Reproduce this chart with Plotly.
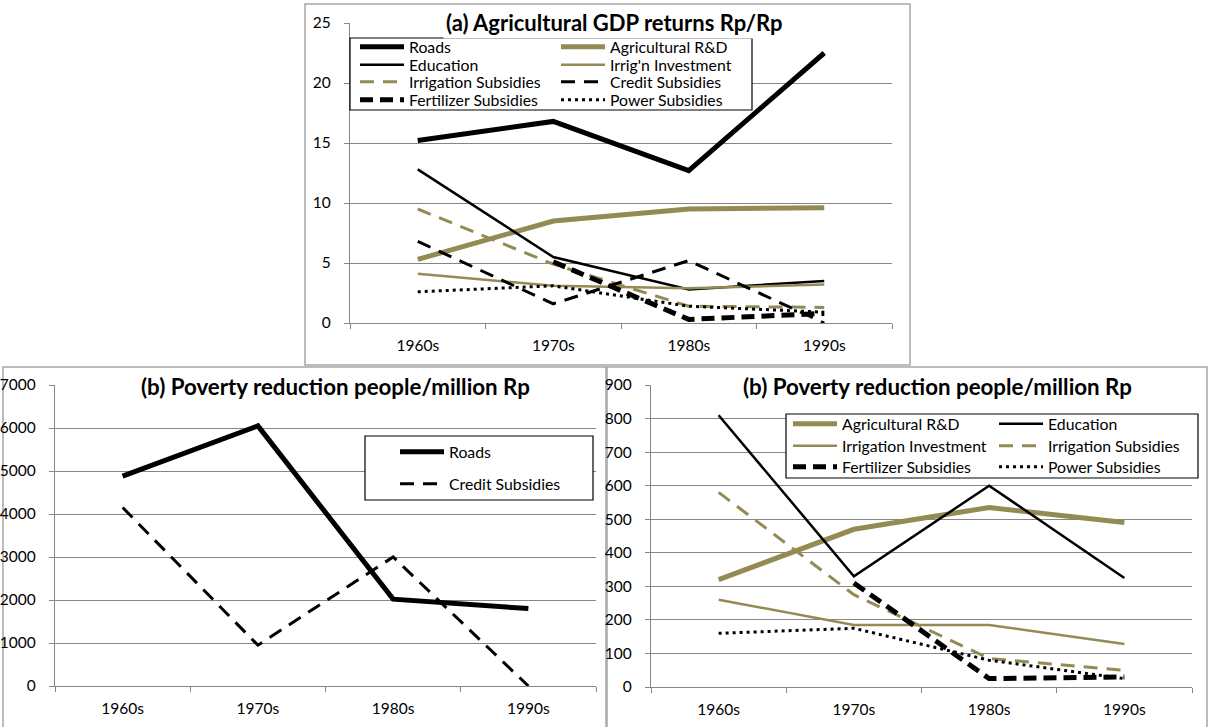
import plotly.graph_objects as go

W, H = 1211, 727

decades = ["1960s", "1970s", "1980s", "1990s"]

# Panel (a): Agricultural GDP returns Rp/Rp
a_roads = [15.2, 16.8, 12.7, 22.5]
a_agrd = [5.3, 8.5, 9.5, 9.6]
a_education = [12.8, 5.5, 2.8, 3.5]
a_irrig_inv = [4.1, 3.1, 2.9, 3.2]
a_irrig_sub = [9.5, 4.9, 1.4, 1.3]
a_credit_sub = [6.8, 1.6, 5.2, 0.0]
a_fert_sub = [None, 5.1, 0.3, 0.8]
a_power_sub = [2.6, 3.1, 1.4, 0.9]

# Panel (b) left: poverty reduction people/million Rp
bl_roads = [4880, 6050, 2020, 1800]
bl_credit_sub = [4150, 950, 3000, 0]

# Panel (b) right: poverty reduction people/million Rp
br_agrd = [320, 470, 535, 490]
br_education = [810, 330, 600, 325]
br_irrig_inv = [260, 185, 185, 128]
br_irrig_sub = [580, 275, 85, 50]
br_fert_sub = [None, 310, 25, 30]
br_power_sub = [160, 175, 80, 25]

OLIVE = "#948A54"
BLACK = "#000000"
GRID = "#868686"
FONT = "Lato"
ITEMW = 44

def px(x):
    return x / W

def py(y):
    return 1 - y / H

styles = {
    "Roads": dict(color=BLACK, width=5),
    "Agricultural R&D": dict(color=OLIVE, width=5),
    "Education": dict(color=BLACK, width=2.5),
    "Irrig'n Investment": dict(color=OLIVE, width=2.5),
    "Irrigation Investment": dict(color=OLIVE, width=2.5),
    "Irrigation Subsidies": dict(color=OLIVE, width=3, dash="14px,9px"),
    "Credit Subsidies": dict(color=BLACK, width=3, dash="14px,9px"),
    "Fertilizer Subsidies": dict(color=BLACK, width=5, dash="13px,7px"),
    "Power Subsidies": dict(color=BLACK, width=3, dash="3px,4px"),
}

fig = go.Figure()

# (name, values, xaxis, yaxis, legend text x, legend row y)
entries = [
    ("Roads", a_roads, "x", "y", 410, 47),
    ("Agricultural R&D", a_agrd, "x", "y", 611, 47),
    ("Education", a_education, "x", "y", 410, 65),
    ("Irrig'n Investment", a_irrig_inv, "x", "y", 611, 65),
    ("Irrigation Subsidies", a_irrig_sub, "x", "y", 410, 82),
    ("Credit Subsidies", a_credit_sub, "x", "y", 611, 82),
    ("Fertilizer Subsidies", a_fert_sub, "x", "y", 410, 100),
    ("Power Subsidies", a_power_sub, "x", "y", 611, 100),
    ("Roads", bl_roads, "x2", "y2", 450, 452),
    ("Credit Subsidies", bl_credit_sub, "x2", "y2", 450, 484),
    ("Agricultural R&D", br_agrd, "x3", "y3", 843, 424),
    ("Education", br_education, "x3", "y3", 1049, 424),
    ("Irrigation Investment", br_irrig_inv, "x3", "y3", 843, 446),
    ("Irrigation Subsidies", br_irrig_sub, "x3", "y3", 1049, 446),
    ("Fertilizer Subsidies", br_fert_sub, "x3", "y3", 843, 467),
    ("Power Subsidies", br_power_sub, "x3", "y3", 1049, 467),
]

legend_font = dict(family=FONT, size=15.8, color="#000000")
legend_layouts = {}
for i, (name, vals, xa, ya, lx, ly) in enumerate(entries):
    lid = "legend" if i == 0 else "legend%d" % (i + 1)
    fig.add_trace(go.Scatter(
        x=decades, y=vals, name=name, mode="lines",
        line=styles[name], xaxis=xa, yaxis=ya, legend=lid,
        connectgaps=False, showlegend=True,
    ))
    legend_layouts[lid] = dict(
        x=px(lx - ITEMW - 11), y=py(ly), xanchor="left", yanchor="middle",
        bgcolor="rgba(0,0,0,0)", borderwidth=0, font=legend_font,
        itemwidth=ITEMW, orientation="v", tracegroupgap=0,
    )

tickfont = dict(family=FONT, size=15.5, color="#000000")

def xaxis(domain, anchor):
    return dict(
        domain=domain, anchor=anchor, type="category",
        range=[-0.5, 3.5], tickson="boundaries", ticks="outside",
        ticklen=5, tickcolor=GRID, showline=True, linecolor=GRID,
        linewidth=1.2, showgrid=False, zeroline=False, tickfont=tickfont,
        fixedrange=True, ticklabelstandoff=8, automargin=False,
    )

def yaxis(domain, anchor, rng, dtick):
    return dict(
        domain=domain, anchor=anchor, range=rng, dtick=dtick,
        ticks="outside", ticklen=5, tickcolor=GRID, showline=True,
        linecolor=GRID, linewidth=1.2, showgrid=True, gridcolor=GRID,
        gridwidth=1, zeroline=False, tickfont=tickfont, fixedrange=True,
        ticklabelstandoff=10, automargin=False,
    )

fig.update_layout(
    width=W, height=H,
    margin=dict(l=0, r=0, t=0, b=0, pad=0, autoexpand=False),
    paper_bgcolor="white", plot_bgcolor="white",
    font=dict(family=FONT, size=15, color="#000000"),
    xaxis=xaxis([px(350), px(892)], "y"),
    yaxis=yaxis([py(323), py(23)], "x", [0, 25], 5),
    xaxis2=xaxis([px(55), px(596)], "y2"),
    yaxis2=yaxis([py(686), py(385)], "x2", [0, 7000], 1000),
    xaxis3=xaxis([px(651), px(1192)], "y3"),
    yaxis3=yaxis([py(687), py(385)], "x3", [0, 900], 100),
    showlegend=True,
    **legend_layouts,
)

shapes = []
# panel borders
for (x0, y0, x1, y1) in [(305, 4, 910, 365), (3, 367, 606, 740), (607, 367, 1207, 740)]:
    shapes.append(dict(type="rect", xref="paper", yref="paper",
                       x0=px(x0), x1=px(x1), y0=py(y1), y1=py(y0),
                       line=dict(color="#A6A6A6", width=1.5),
                       fillcolor="rgba(0,0,0,0)", layer="below"))
# legend boxes
for (x0, y0, x1, y1) in [(350, 38, 752, 110), (365, 436, 593, 500), (786, 414, 1198, 478)]:
    shapes.append(dict(type="rect", xref="paper", yref="paper",
                       x0=px(x0), x1=px(x1), y0=py(y1), y1=py(y0),
                       line=dict(color="#000000", width=1.2),
                       fillcolor="white", layer="above"))
fig.update_layout(shapes=shapes)

titles = [
    ("(a) Agricultural GDP returns Rp/Rp", 614, 22, 22),
    ("(b) Poverty reduction people/million Rp", 335, 386, 22.3),
    ("(b) Poverty reduction people/million Rp", 938, 386, 22.3),
]
for text, x, y, size in titles:
    fig.add_annotation(
        text="<b>" + text + "</b>", x=px(x), y=py(y), xref="paper", yref="paper",
        xanchor="center", yanchor="middle", showarrow=False,
        font=dict(family=FONT, size=size, color="#000000"),
        bgcolor="white", borderpad=2,
    )

css = (
    "document.documentElement.style.margin='0';"
    "document.documentElement.style.padding='0';"
    "document.documentElement.style.overflow='hidden';"
    "document.body.style.margin='0';"
    "document.body.style.padding='0';"
    "document.body.style.overflow='hidden';"
)

fig.write_html(
    "out.html",
    config={"displayModeBar": False, "staticPlot": True},
    post_script=css,
)
